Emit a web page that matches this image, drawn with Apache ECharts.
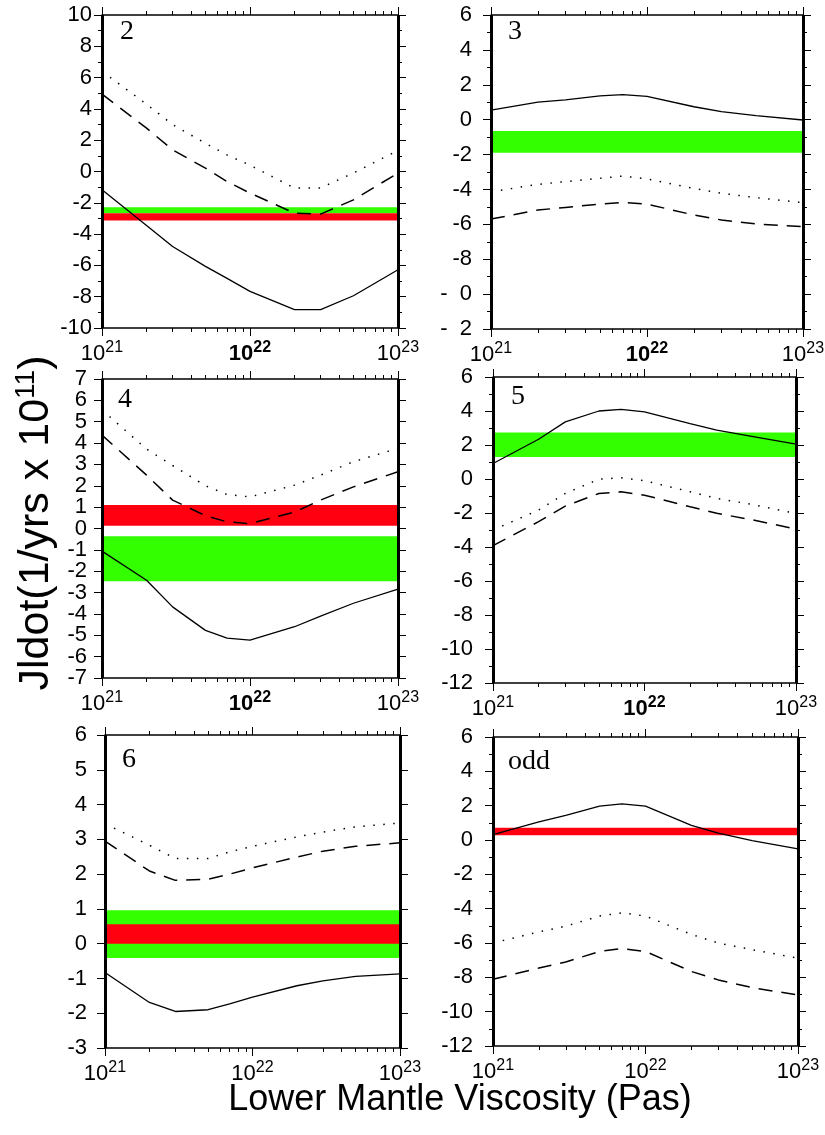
<!DOCTYPE html>
<html><head><meta charset="utf-8">
<script src="https://cdn.jsdelivr.net/npm/echarts@6/dist/echarts.min.js"></script>
<style>html,body{margin:0;padding:0;background:#fff}#c{width:825px;height:1135px}</style>
</head><body><div id="c"></div>
<script>
// ---- data ----
const viscosity = [1e21, 2e21, 3e21, 5e21, 7e21, 1e22, 2e22, 3e22, 5e22, 1e23];
const xExponents = [21, 22, 23];

const p2Solid  = [-1.17, -3.45, -4.79, -6.06, -6.83, -7.66, -8.83, -8.83, -7.94, -6.28];
const p2Dotted = [6.4, 4.3, 3.0, 1.8, 1.06, 0.4, -1.06, -1.05, -0.1, 1.35];
const p2Dashed = [4.94, 2.77, 1.38, 0.21, -0.64, -1.38, -2.66, -2.72, -1.81, -0.1];
const p2Green = [-2.28, -2.66];
const p2Red = [-2.66, -3.13];
const p2YAxis = [-10, 10, 2];

const p3Solid  = [0.55, 1.0, 1.13, 1.36, 1.43, 1.34, 0.74, 0.46, 0.23, -0.02];
const p3Dotted = [-4.13, -3.71, -3.55, -3.36, -3.23, -3.4, -3.94, -4.22, -4.47, -4.76];
const p3Dashed = [-5.7, -5.18, -5.03, -4.84, -4.74, -4.84, -5.47, -5.75, -5.98, -6.13];
const p3Green = [-0.65, -1.89];
const p3YAxis = [-12, 6, 2];
const p3YLabels = {'-10': '-  0', '-12': '-  2'};

const p4Solid  = [-1.06, -2.42, -3.67, -4.77, -5.13, -5.23, -4.6, -4.1, -3.5, -2.84];
const p4Dotted = [5.55, 3.72, 2.95, 2.0, 1.59, 1.48, 2.03, 2.5, 3.13, 3.75];
const p4Dashed = [4.37, 2.5, 1.33, 0.6, 0.31, 0.23, 0.77, 1.33, 1.95, 2.66];
const p4Red = [1.1, 0.13];
const p4Green = [-0.36, -2.47];
const p4YAxis = [-7, 7, 1];

const p5Solid  = [0.91, 2.34, 3.36, 4.0, 4.1, 3.95, 3.26, 2.87, 2.52, 2.05];
const p5Dotted = [-3.0, -1.83, -0.85, -0.01, 0.07, -0.1, -0.75, -1.14, -1.48, -2.02];
const p5Dashed = [-3.92, -2.51, -1.59, -0.85, -0.75, -0.95, -1.63, -2.02, -2.38, -2.94];
const p5Green = [2.73, 1.3];
const p5YAxis = [-12, 6, 2];

const p6Solid  = [-0.83, -1.69, -1.95, -1.9, -1.73, -1.54, -1.21, -1.07, -0.94, -0.87];
const p6Dotted = [3.45, 2.83, 2.45, 2.45, 2.64, 2.8, 3.07, 3.21, 3.36, 3.47];
const p6Dashed = [2.95, 2.09, 1.82, 1.85, 2.0, 2.18, 2.49, 2.66, 2.8, 2.9];
const p6Green = [0.96, -0.41];
const p6Red = [0.56, 0.0];
const p6YAxis = [-3, 6, 1];

const pOddSolid  = [0.32, 1.05, 1.44, 1.97, 2.1, 1.97, 0.85, 0.4, -0.03, -0.52];
const pOddDotted = [-6.0, -5.35, -5.02, -4.43, -4.24, -4.43, -5.5, -6.0, -6.39, -6.88];
const pOddDashed = [-8.11, -7.46, -7.11, -6.49, -6.33, -6.49, -7.66, -8.15, -8.6, -9.03];
const pOddRed = [0.72, 0.27];
const pOddYAxis = [-12, 6, 2];

const panelNames = ['2', '3', '4', '5', '6', 'odd'];

// ---- styling / layout ----
const GREEN = '#33ff00', RED = '#ff0010';
const SANS = '"Liberation Sans", Arial, Helvetica, sans-serif';
const SERIF = '"Liberation Serif", "Times New Roman", serif';

const panels = [
  {name: panelNames[0], s: p2Solid, d: p2Dotted, k: p2Dashed, y: p2YAxis, bands: [[GREEN, p2Green], [RED, p2Red]],
   box: [102, 15, 296, 313], margin: 10, boldMid: true, minor: true, lab: [120, 18]},
  {name: panelNames[1], s: p3Solid, d: p3Dotted, k: p3Dashed, y: p3YAxis, bands: [[GREEN, p3Green]],
   box: [491, 15, 312, 314], margin: 19, boldMid: true, minor: true, lab: [508, 18], ylab: p3YLabels},
  {name: panelNames[2], s: p4Solid, d: p4Dotted, k: p4Dashed, y: p4YAxis, bands: [[RED, p4Red], [GREEN, p4Green]],
   box: [102, 379, 296, 299], margin: 15, boldMid: true, minor: false, lab: [118, 386]},
  {name: panelNames[3], s: p5Solid, d: p5Dotted, k: p5Dashed, y: p5YAxis, bands: [[GREEN, p5Green]],
   box: [493, 377, 303, 306], margin: 20, boldMid: true, minor: true, lab: [511, 383]},
  {name: panelNames[4], s: p6Solid, d: p6Dotted, k: p6Dashed, y: p6YAxis, bands: [[GREEN, p6Green], [RED, p6Red]],
   box: [105, 735, 295, 313], margin: 18, boldMid: false, minor: false, lab: [122, 746]},
  {name: panelNames[5], s: pOddSolid, d: pOddDotted, k: pOddDashed, y: pOddYAxis, bands: [[RED, pOddRed]],
   box: [493, 737, 305, 309], margin: 20, boldMid: false, minor: true, lab: [508, 748]}
];

const grids = [], xAxes = [], yAxes = [], series = [], graphics = [];
const Y_PER = 3;

panels.forEach((p, gi) => {
  grids.push({left: p.box[0], top: p.box[1], width: p.box[2], height: p.box[3], containLabel: false, outerBoundsMode: 'none'});
  const xBase = (pos, labels) => ({
    gridIndex: gi, type: 'log', logBase: 10, min: Math.pow(10, xExponents[0]), max: Math.pow(10, xExponents[xExponents.length - 1]),
    interval: 1, position: pos, z: 3,
    splitLine: {show: false},
    axisLine: {show: true, onZero: false, lineStyle: {color: '#000', width: 1.5}},
    axisTick: {show: true, inside: false, length: 8, lineStyle: {color: '#000', width: 1}},
    minorTick: {show: true, splitNumber: 9, length: 4, lineStyle: {color: '#000', width: 1}},
    minorSplitLine: {show: false},
    axisLabel: {
      show: labels, margin: 12, color: '#000', fontFamily: SANS, showMinLabel: true, showMaxLabel: true,
      formatter: v => {
        const e = Math.round(Math.log10(v));
        const bold = p.boldMid && e === xExponents[1];
        return (bold ? '{bb|10}{sb|' : '{b|10}{s|') + e + '}';
      },
      rich: {
        b: {fontSize: 22, fontFamily: SANS, color: '#000'},
        s: {fontSize: 16, fontFamily: SANS, color: '#000', padding: [0, 0, 11, 0]},
        bb: {fontSize: 22, fontFamily: SANS, color: '#000', fontWeight: 'bold'},
        sb: {fontSize: 16, fontFamily: SANS, color: '#000', fontWeight: 'bold', padding: [0, 0, 11, 0]}
      }
    }
  });
  xAxes.push(xBase('bottom', true));
  xAxes.push(xBase('top', false));

  // labelParity: null = no labels, 0 = even-indexed ticks, 1 = odd-indexed ticks
  const yBase = (pos, labelParity, lineAndTicks) => ({
    gridIndex: gi, type: 'value', min: p.y[0], max: p.y[1], interval: p.y[2], position: pos, z: 4,
    splitLine: {show: false},
    axisLine: {show: lineAndTicks, onZero: false, lineStyle: {color: '#000', width: 3, cap: 'butt'}},
    axisTick: {show: lineAndTicks, inside: false, length: 8, lineStyle: {color: '#000', width: 1}},
    minorTick: {show: lineAndTicks && p.minor, splitNumber: 2, length: 4, lineStyle: {color: '#000', width: 1}},
    minorSplitLine: {show: false},
    axisLabel: {
      show: labelParity !== null, margin: p.margin, color: '#000', fontFamily: SANS, fontSize: 22,
      showMinLabel: true, showMaxLabel: true, hideOverlap: false,
      formatter: v => {
        const idx = Math.round((v - p.y[0]) / p.y[2]);
        if (idx % 2 !== labelParity) return '';
        return (p.ylab && p.ylab[String(v)] !== undefined) ? p.ylab[String(v)] : String(v);
      }
    }
  });
  yAxes.push(yBase('left', 0, true));
  yAxes.push(yBase('right', null, true));
  yAxes.push(yBase('left', 1, false));

  p.bands.forEach((b, bi) => {
    series.push({
      type: 'line', xAxisIndex: 2 * gi, yAxisIndex: Y_PER * gi, data: [], silent: true, z: 1 + bi,
      markArea: {silent: true, z: 1 + bi, itemStyle: {color: b[0], opacity: 1}, label: {show: false},
        data: [[{yAxis: b[1][0]}, {yAxis: b[1][1]}]]}
    });
  });
  const mk = (arr, type) => ({
    type: 'line', xAxisIndex: 2 * gi, yAxisIndex: Y_PER * gi, z: 5, silent: true,
    showSymbol: false, symbol: 'none',
    data: viscosity.map((v, i) => [v, arr[i]]),
    lineStyle: {color: '#000', width: type === 'solid' ? 1.3 : 1.5, type: type === 'solid' ? 'solid' : (type === 'dotted' ? [1.5, 8.5] : [14, 9])}
  });
  series.push(mk(p.s, 'solid'), mk(p.d, 'dotted'), mk(p.k, 'dashed'));

  graphics.push({type: 'text', left: p.lab[0], top: p.lab[1], z: 10,
    style: {text: p.name, font: '28px ' + SERIF, fill: '#000'}});
});

graphics.push({
  type: 'text', x: 36, y: 523, rotation: Math.PI / 2, z: 10,
  style: {
    text: '{m|Jldot(1/yrs x 10}{s|11}{m|)}', align: 'center', verticalAlign: 'middle',
    rich: {m: {fontSize: 43, fontFamily: SANS, fill: '#000'}, s: {fontSize: 28, fontFamily: SANS, fill: '#000', padding: [0, 0, 20, 0]}}
  }
});
graphics.push({
  type: 'text', x: 460, y: 1100, z: 10,
  style: {text: 'Lower Mantle Viscosity (Pas)', font: '36px ' + SANS, fill: '#000', align: 'center', verticalAlign: 'middle'}
});

const chart = echarts.init(document.getElementById('c'), null, {renderer: 'canvas'});
chart.setOption({
  animation: false,
  backgroundColor: '#fff',
  grid: grids, xAxis: xAxes, yAxis: yAxes, series: series, graphic: graphics
});
</script></body></html>
